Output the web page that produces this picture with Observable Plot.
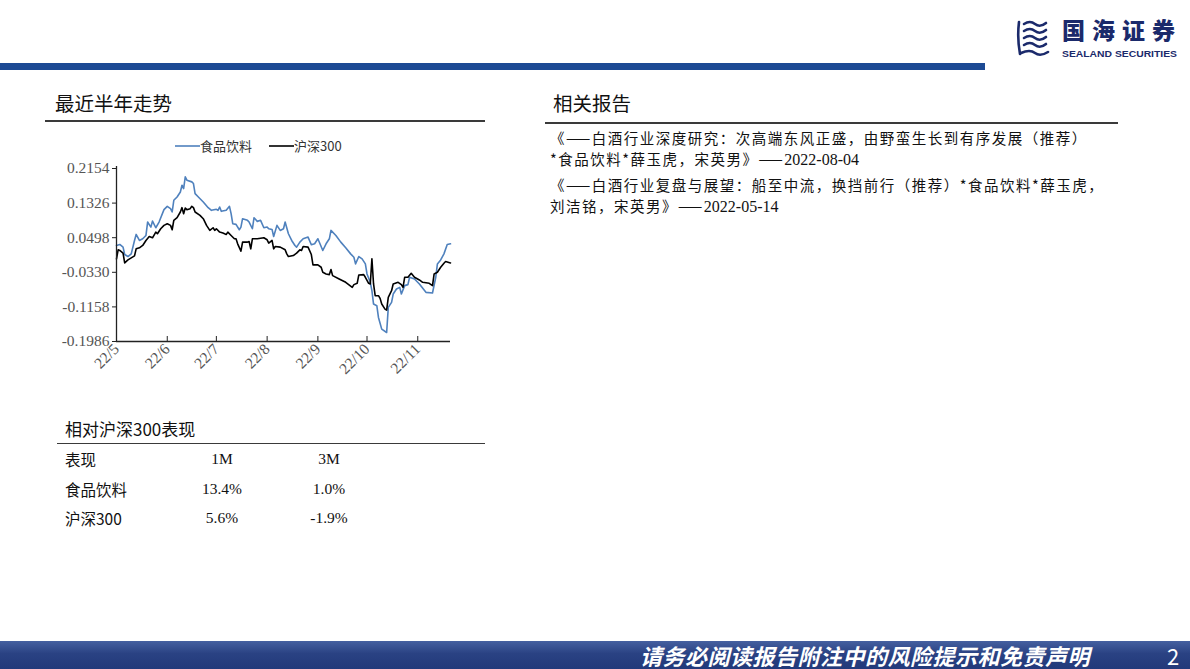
<!DOCTYPE html>
<html><head><meta charset="utf-8">
<script src="https://cdn.jsdelivr.net/npm/d3@7"></script>
<script src="https://cdn.jsdelivr.net/npm/@observablehq/plot@0.6"></script>
<style>
body{margin:0;width:1190px;height:669px;position:relative;overflow:hidden;background:#fff;font-family:"Noto Sans CJK SC","Noto Sans",sans-serif;color:#111}
.abs{position:absolute;white-space:nowrap}
.serif{font-family:"Liberation Serif","Times New Roman",serif}
</style></head><body>
<script>
// ---- data ----
const seriesNames = ["食品饮料", "沪深300"];
const seriesColors = ["#4f81bd", "#000000"];

const foodDates = ["2022-05-01","2022-05-03","2022-05-05","2022-05-06","2022-05-08","2022-05-10","2022-05-12","2022-05-13","2022-05-15","2022-05-17","2022-05-19","2022-05-20","2022-05-22","2022-05-23","2022-05-25","2022-05-27","2022-05-30","2022-06-01","2022-06-03","2022-06-04","2022-06-05","2022-06-07","2022-06-09","2022-06-10","2022-06-11","2022-06-12","2022-06-13","2022-06-16","2022-06-17","2022-06-18","2022-06-20","2022-06-23","2022-06-26","2022-06-28","2022-07-01","2022-07-02","2022-07-03","2022-07-04","2022-07-07","2022-07-09","2022-07-10","2022-07-11","2022-07-13","2022-07-15","2022-07-16","2022-07-17","2022-07-20","2022-07-21","2022-07-23","2022-07-24","2022-07-26","2022-07-28","2022-07-30","2022-08-01","2022-08-02","2022-08-04","2022-08-05","2022-08-07","2022-08-09","2022-08-11","2022-08-12","2022-08-14","2022-08-16","2022-08-18","2022-08-19","2022-08-21","2022-08-23","2022-08-26","2022-08-28","2022-08-30","2022-09-01","2022-09-04","2022-09-06","2022-09-08","2022-09-09","2022-09-12","2022-09-15","2022-09-18","2022-09-21","2022-09-23","2022-09-24","2022-09-26","2022-09-28","2022-09-30","2022-10-01","2022-10-03","2022-10-04","2022-10-05","2022-10-07","2022-10-08","2022-10-10","2022-10-13","2022-10-14","2022-10-16","2022-10-17","2022-10-19","2022-10-21","2022-10-22","2022-10-24","2022-10-26","2022-10-27","2022-10-30","2022-11-02","2022-11-06","2022-11-10","2022-11-12","2022-11-13","2022-11-15","2022-11-17","2022-11-19","2022-11-21"];
const foodValues = [0.0312,0.0336,0.0272,0.0095,0.0047,0.0111,0.0432,0.0576,0.0432,0.0472,0.0552,0.0873,0.0752,0.0897,0.0736,0.0873,0.1169,0.1249,0.1193,0.1113,0.1393,0.1473,0.1593,0.1754,0.1673,0.1954,0.1874,0.1834,0.1794,0.1553,0.1473,0.1353,0.1217,0.1153,0.1177,0.1153,0.1233,0.1129,0.1153,0.1249,0.1073,0.0833,0.0817,0.0688,0.0752,0.0953,0.0913,0.0873,0.0712,0.0977,0.0889,0.0913,0.0736,0.0752,0.0712,0.0696,0.0528,0.0793,0.0672,0.0712,0.0873,0.0592,0.0432,0.0312,0.0272,0.0392,0.0472,0.0512,0.0328,0.0352,0.0472,0.0192,0.0352,0.0472,0.0672,0.0552,0.0392,0.0256,0.0111,0.0031,-0.0129,0.0047,-0.0009,-0.0129,-0.0369,-0.0569,-0.0770,-0.1090,-0.1130,-0.1410,-0.1690,-0.1771,-0.1170,-0.1050,-0.0850,-0.0730,-0.0690,-0.0850,-0.0649,-0.0625,-0.0449,-0.0489,-0.0609,-0.0810,-0.0826,-0.0449,-0.0129,-0.0033,0.0111,0.0336,0.0352];

const hsDates = ["2022-05-01","2022-05-02","2022-05-03","2022-05-05","2022-05-06","2022-05-08","2022-05-10","2022-05-12","2022-05-13","2022-05-15","2022-05-17","2022-05-19","2022-05-21","2022-05-23","2022-05-25","2022-05-26","2022-05-28","2022-05-30","2022-06-01","2022-06-03","2022-06-04","2022-06-05","2022-06-07","2022-06-09","2022-06-10","2022-06-11","2022-06-12","2022-06-13","2022-06-15","2022-06-16","2022-06-17","2022-06-18","2022-06-21","2022-06-23","2022-06-25","2022-06-27","2022-06-29","2022-06-30","2022-07-01","2022-07-03","2022-07-05","2022-07-07","2022-07-08","2022-07-10","2022-07-12","2022-07-13","2022-07-14","2022-07-16","2022-07-17","2022-07-20","2022-07-21","2022-07-22","2022-07-23","2022-07-26","2022-07-30","2022-08-01","2022-08-02","2022-08-04","2022-08-05","2022-08-06","2022-08-09","2022-08-12","2022-08-13","2022-08-14","2022-08-17","2022-08-19","2022-08-21","2022-08-22","2022-08-23","2022-08-26","2022-08-28","2022-08-29","2022-09-01","2022-09-03","2022-09-04","2022-09-06","2022-09-08","2022-09-09","2022-09-10","2022-09-14","2022-09-18","2022-09-22","2022-09-23","2022-09-25","2022-09-26","2022-09-29","2022-09-30","2022-10-02","2022-10-03","2022-10-04","2022-10-05","2022-10-06","2022-10-08","2022-10-09","2022-10-10","2022-10-12","2022-10-13","2022-10-14","2022-10-16","2022-10-17","2022-10-20","2022-10-22","2022-10-23","2022-10-24","2022-10-26","2022-10-28","2022-10-30","2022-11-02","2022-11-04","2022-11-08","2022-11-10","2022-11-11","2022-11-13","2022-11-15","2022-11-17","2022-11-18","2022-11-21"];
const hsValues = [-0.0009,0.0208,0.0192,0.0128,-0.0105,-0.0033,0.0015,0.0063,0.0232,0.0256,0.0312,0.0432,0.0528,0.0496,0.0632,0.0592,0.0712,0.0793,0.0833,0.0793,0.0688,0.0913,0.0977,0.1113,0.1217,0.1073,0.1209,0.1169,0.1193,0.1249,0.1217,0.1113,0.1033,0.0953,0.0793,0.0672,0.0736,0.0672,0.0712,0.0632,0.0608,0.0576,0.0632,0.0552,0.0472,0.0472,0.0352,0.0176,0.0392,0.0392,0.0408,0.0232,0.0472,0.0472,0.0496,0.0448,0.0368,0.0432,0.0232,0.0288,0.0272,0.0208,0.0111,0.0047,0.0071,0.0128,0.0208,0.0192,0.0288,0.0272,0.0095,-0.0153,-0.0153,-0.0209,-0.0329,-0.0369,-0.0385,-0.0265,-0.0409,-0.0489,-0.0569,-0.0690,-0.0625,-0.0593,-0.0393,-0.0385,-0.0449,-0.0593,-0.0609,-0.0009,-0.0609,-0.0890,-0.0890,-0.0954,-0.1090,-0.1210,-0.1234,-0.0930,-0.0770,-0.0609,-0.0569,-0.0625,-0.0690,-0.0449,-0.0449,-0.0353,-0.0449,-0.0513,-0.0569,-0.0593,-0.0649,-0.0369,-0.0329,-0.0209,-0.0113,-0.0073,-0.0105];

const xTicks = ["2022-05-01","2022-06-01","2022-07-01","2022-08-01","2022-09-01","2022-10-01","2022-11-01"];
const xTickLabels = ["22/5","22/6","22/7","22/8","22/9","22/10","22/11"];
const xDomain = ["2022-05-01","2022-11-21"];
const yTicks = [0.2154, 0.1326, 0.0498, -0.0330, -0.1158, -0.1986];
const yTickLabels = ["0.2154","0.1326","0.0498","-0.0330","-0.1158","-0.1986"];

const tableHeader = ["表现", "1M", "3M"];
const tableRows = [["食品饮料", "13.4%", "1.0%"], ["沪深300", "5.6%", "-1.9%"]];

const reports = [
  ["《——白酒行业深度研究：次高端东风正盛，由野蛮生长到有序发展（推荐）", "*食品饮料*薛玉虎，宋英男》——", "2022-08-04"],
  ["《——白酒行业复盘与展望：船至中流，换挡前行（推荐）*食品饮料*薛玉虎，", "刘洁铭，宋英男》——", "2022-05-14"]
];
</script>

<!-- header -->
<div class="abs" style="left:0;top:63px;width:985px;height:7px;background:#1d4a94"></div>
<svg class="abs" style="left:1015px;top:18px" width="36" height="40" viewBox="0 0 36 40">
  <g fill="none" stroke="#1b2a6b" stroke-width="2.6" stroke-linecap="round">
    <path d="M4,4 Q2,20 5,36"/>
    <path d="M9,6 Q15,2 20,6 T31,5"/>
    <path d="M9,13 Q15,9 20,13 T31,12"/>
    <path d="M9,20 Q15,16 20,20 T31,19"/>
    <path d="M9,27 Q15,23 20,27 T31,26"/>
    <path d="M6,35 Q15,31 20,35 T33,34"/>
  </g>
</svg>
<div class="abs" style="left:1062px;top:17.5px;font-size:23px;font-weight:900;color:#1b2a6b;letter-spacing:7px;line-height:23px">国海证券</div>
<svg class="abs" style="left:1062px;top:47px" width="118" height="12"><text x="0" y="9.7" textLength="115" lengthAdjust="spacingAndGlyphs" font-family="Liberation Sans, Arial, sans-serif" font-weight="bold" font-size="9.6" fill="#1b2a6b">SEALAND SECURITIES</text></svg>

<!-- left block -->
<div class="abs" style="left:55px;top:92px;font-size:19.5px;line-height:22px">最近半年走势</div>
<div class="abs" style="left:45px;top:120px;width:440px;height:1.5px;background:#3a3a3a"></div>

<div id="legend" class="abs" style="left:0;top:137px;height:18px;width:480px;font-size:13px;line-height:18px;color:#333"></div>
<div id="chart" class="abs" style="left:40px;top:155px"></div>

<div class="abs" style="left:65px;top:418px;font-size:17px;line-height:22px">相对沪深300表现</div>
<div class="abs" style="left:57px;top:442.5px;width:428px;height:1.5px;background:#3a3a3a"></div>
<div id="table"></div>

<!-- right block -->
<div class="abs" style="left:553px;top:92px;font-size:19.5px;line-height:22px">相关报告</div>
<div class="abs" style="left:545px;top:122px;width:573px;height:1.5px;background:#3a3a3a"></div>
<div id="reports"></div>

<!-- footer -->
<div class="abs" style="left:0;top:641px;width:1190px;height:28px;background:linear-gradient(180deg,#4560a0 0%,#2a4283 45%,#22397a 100%)"></div>
<div class="abs" style="left:640px;top:641px;font-size:22px;line-height:28px;font-style:italic;font-weight:bold;color:#fff;letter-spacing:0.5px">请务必阅读报告附注中的风险提示和免责声明</div>
<div class="abs" style="left:1167px;top:641px;font-size:22px;line-height:28px;color:#fff">2</div>

<script>
const parse = d3.utcParse("%Y-%m-%d");
const food = foodDates.map((d, i) => ({date: parse(d), value: foodValues[i]}));
const hs = hsDates.map((d, i) => ({date: parse(d), value: hsValues[i]}));

// legend
const legend = document.getElementById("legend");
const legendLeft = [175, 269];
seriesNames.forEach((n, i) => {
  const item = document.createElement("div");
  item.className = "abs";
  item.style.left = legendLeft[i] + "px";
  item.style.top = "0px";
  item.innerHTML = `<svg width="25" height="18" style="vertical-align:top"><line x1="0" x2="25" y1="9" y2="9" stroke="${seriesColors[i]}" stroke-width="1.6"/></svg><span>${n}</span>`;
  legend.appendChild(item);
});

const W = 420, H = 231, mT = 13, mB = 45;
const chart = Plot.plot({
  width: W, height: H,
  marginLeft: 76, marginRight: 10, marginTop: mT, marginBottom: mB,
  style: {fontFamily: "'Liberation Serif','Times New Roman',serif", fontSize: "15.5px", color: "#555", background: "transparent", overflow: "visible"},
  x: {type: "utc", domain: xDomain.map(parse)},
  y: {domain: [yTicks[yTicks.length - 1], yTicks[0]]},
  marks: [
    Plot.axisY({ticks: yTicks, tickFormat: (d, i) => yTickLabels[i], tickSize: 4, tickPadding: 3, stroke: "#222", fill: "#555", label: null}),
    Plot.axisX({ticks: xTicks.map(parse), tickFormat: (d, i) => xTickLabels[i], tickSize: 0, tickPadding: 5, tickRotate: -45, fill: "#555", label: null}),
    Plot.ruleX(xTicks.map(parse), {stroke: "#222", strokeWidth: 1, insetTop: H - mT - mB - 5}),
    Plot.lineY(food, {x: "date", y: "value", stroke: seriesColors[0], strokeWidth: 1.6, strokeLinejoin: "round"}),
    Plot.lineY(hs, {x: "date", y: "value", stroke: seriesColors[1], strokeWidth: 1.6, strokeLinejoin: "round"}),
    Plot.ruleX([parse(xDomain[0])], {stroke: "#222", strokeWidth: 1.3, insetTop: -2}),
    Plot.ruleY([yTicks[yTicks.length - 1]], {stroke: "#222", strokeWidth: 1.3})
  ]
});
document.getElementById("chart").appendChild(chart);

// table
const table = document.getElementById("table");
const rowY = [449, 479, 508];
const colCenter = [null, 222, 329];
[tableHeader, ...tableRows].forEach((row, r) => {
  row.forEach((cell, c) => {
    const el = document.createElement("div");
    el.className = "abs" + (c > 0 ? " serif" : "");
    el.style.top = rowY[r] + "px";
    el.style.lineHeight = "20px";
    el.style.fontSize = "15.5px";
    if (c === 0) { el.style.left = "65px"; }
    else { el.style.left = (colCenter[c] - 50) + "px"; el.style.width = "100px"; el.style.textAlign = "center"; }
    el.textContent = cell;
    table.appendChild(el);
  });
});

// reports: two lines each
const rep = document.getElementById("reports");
const repTop = [126.5, 173.5];
const lineGap = 21;
reports.forEach((r, i) => {
  const l1 = document.createElement("div");
  l1.className = "abs";
  l1.style.cssText = `left:550px;top:${repTop[i]}px;font-size:14.5px;line-height:${lineGap}px;letter-spacing:1.5px`;
  l1.textContent = r[0];
  const l2 = document.createElement("div");
  l2.className = "abs";
  l2.style.cssText = `left:550px;top:${repTop[i] + lineGap}px;font-size:14.5px;line-height:${lineGap}px;letter-spacing:1.5px`;
  l2.innerHTML = `${r[1]}<span class="serif" style="font-size:16px;letter-spacing:0">${r[2]}</span>`;
  rep.appendChild(l1); rep.appendChild(l2);
});
</script>
</body></html>
